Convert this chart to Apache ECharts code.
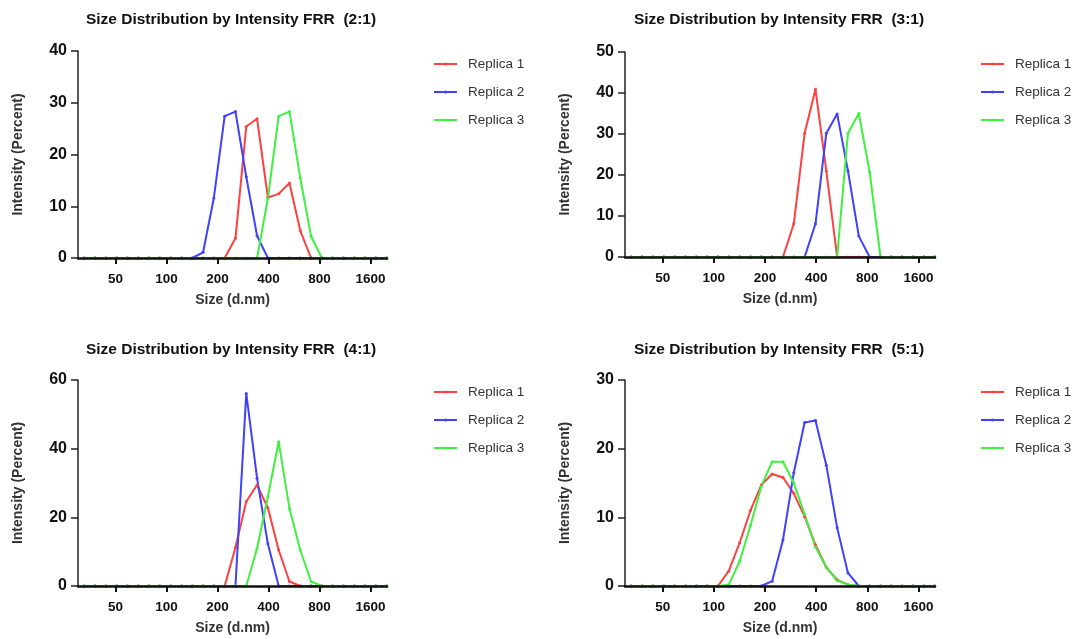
<!DOCTYPE html>
<html>
<head>
<meta charset="utf-8">
<script src="https://cdn.jsdelivr.net/npm/echarts@6/dist/echarts.min.js"></script>
<style>
  html, body { margin: 0; padding: 0; background: #fff; }
  #main { width: 1078px; height: 639px; }
</style>
</head>
<body>
<div id="main"></div>
<script>
// DLS size bins (d.nm)
var sizes = [32.67, 37.84, 43.82, 50.75, 58.77, 68.06, 78.82, 91.28, 105.7, 122.4,
  141.8, 164.2, 190.1, 220.2, 255.0, 295.3, 342.0, 396.1, 458.7, 531.2,
  615.1, 712.4, 825.0, 955.4, 1106, 1281, 1484, 1718, 1990];
var replicaNames = ['Replica 1', 'Replica 2', 'Replica 3'];
var xTicks = [50, 100, 200, 400, 800, 1600];

// FRR 2:1
var frr21Rep1 = [0,0,0,0,0,0,0,0,0,0, 0,0,0,0,3.8,25.4,26.9,11.7,12.4,14.5, 5.3,0,0,0,0,0,0,0,0];
var frr21Rep2 = [0,0,0,0,0,0,0,0,0,0, 0,1.1,11.6,27.4,28.3,15.7,4.3,0,0,0, 0,0,0,0,0,0,0,0,0];
var frr21Rep3 = [0,0,0,0,0,0,0,0,0,0, 0,0,0,0,0,0,0,11.5,27.4,28.3, 15.5,4.2,0,0,0,0,0,0,0];
// FRR 3:1
var frr31Rep1 = [0,0,0,0,0,0,0,0,0,0, 0,0,0,0,0,8.1,30.2,40.9,21.0,0, 0,0,0,0,0,0,0,0,0];
var frr31Rep2 = [0,0,0,0,0,0,0,0,0,0, 0,0,0,0,0,0,0,8.1,30.2,34.9, 21.0,5.1,0,0,0,0,0,0,0];
var frr31Rep3 = [0,0,0,0,0,0,0,0,0,0, 0,0,0,0,0,0,0,0,0,0, 30.2,35.0,20.8,0,0,0,0,0,0];
// FRR 4:1
var frr41Rep1 = [0,0,0,0,0,0,0,0,0,0, 0,0,0,0,11.2,24.6,29.4,22.8,10.5,1.3, 0,0,0,0,0,0,0,0,0];
var frr41Rep2 = [0,0,0,0,0,0,0,0,0,0, 0,0,0,0,0,56.1,31.4,12.3,0,0, 0,0,0,0,0,0,0,0,0];
var frr41Rep3 = [0,0,0,0,0,0,0,0,0,0, 0,0,0,0,0,0,11.0,26.0,42.0,22.6, 10.5,1.3,0,0,0,0,0,0,0];
// FRR 5:1
var frr51Rep1 = [0,0,0,0,0,0,0,0,0,2.2, 6.3,11.0,14.7,16.3,15.8,13.5,10.1,6.0,2.7,0.9, 0.2,0,0,0,0,0,0,0,0];
var frr51Rep2 = [0,0,0,0,0,0,0,0,0,0, 0,0,0,0.7,6.7,16.5,23.8,24.1,17.6,8.5, 1.9,0,0,0,0,0,0,0,0];
var frr51Rep3 = [0,0,0,0,0,0,0,0,0,0.2, 3.6,8.8,14.5,18.1,18.1,15.0,10.4,5.7,2.7,0.8, 0.2,0,0,0,0,0,0,0,0];

var colors = ['#ff4040', '#4040ff', '#40f040'];
var font = 'Liberation Sans';

var panels = [
  { title: 'Size Distribution by Intensity FRR  (2:1)', left: 78, top: 51, width: 309, height: 207,
    yMax: 40, yStep: 10, rows: [frr21Rep1, frr21Rep2, frr21Rep3], tx: 231, ty: 12, lx: 433, ly: 56 },
  { title: 'Size Distribution by Intensity FRR  (3:1)', left: 625, top: 52, width: 310, height: 205,
    yMax: 50, yStep: 10, rows: [frr31Rep1, frr31Rep2, frr31Rep3], tx: 779, ty: 12, lx: 980, ly: 56 },
  { title: 'Size Distribution by Intensity FRR  (4:1)', left: 78, top: 380, width: 309, height: 206,
    yMax: 60, yStep: 20, rows: [frr41Rep1, frr41Rep2, frr41Rep3], tx: 231, ty: 342, lx: 433, ly: 384 },
  { title: 'Size Distribution by Intensity FRR  (5:1)', left: 625, top: 380, width: 310, height: 206,
    yMax: 30, yStep: 10, rows: [frr51Rep1, frr51Rep2, frr51Rep3], tx: 779, ty: 342, lx: 980, ly: 384 }
];

var option = {
  backgroundColor: '#ffffff',
  color: colors,
  animation: false,
  title: [], grid: [], xAxis: [], yAxis: [], legend: [], series: []
};

panels.forEach(function (p, k) {
  option.title.push({
    text: p.title, left: p.tx, top: p.ty, textAlign: 'center', padding: 0,
    textStyle: { fontFamily: font, fontSize: 15.5, fontWeight: 'bold', color: '#111' }
  });
  option.grid.push({ left: p.left, top: p.top, width: p.width, height: p.height });
  option.xAxis.push({
    type: 'log', logBase: 2, min: 30, max: 2000, gridIndex: k, z: 5,
    name: 'Size (d.nm)', nameLocation: 'middle', nameGap: 35,
    nameTextStyle: { fontFamily: font, fontSize: 14, fontWeight: 'bold', color: '#333' },
    axisLine: { lineStyle: { color: '#111', width: 2.5 } },
    axisTick: { customValues: xTicks, length: 6, lineStyle: { color: '#111', width: 2 } },
    axisLabel: {
      customValues: xTicks, margin: 14, fontFamily: font, fontSize: 13.5, fontWeight: 'bold', color: '#111',
      formatter: function (v) { return String(Math.round(v)); }
    },
    splitLine: { show: false }
  });
  option.yAxis.push({
    type: 'value', min: 0, max: p.yMax, interval: p.yStep, gridIndex: k,
    name: 'Intensity (Percent)', nameLocation: 'middle', nameGap: 53,
    nameTextStyle: { fontFamily: font, fontSize: 14, fontWeight: 'bold', color: '#333' },
    axisLine: { show: true, lineStyle: { color: '#222', width: 1.5 } },
    axisTick: { show: true, length: 7, lineStyle: { color: '#222', width: 1.5 } },
    axisLabel: { margin: 11, fontFamily: font, fontSize: 16, fontWeight: 'bold', color: '#111' },
    splitLine: { show: false }
  });
  option.legend.push({
    data: replicaNames, orient: 'vertical', left: p.lx, top: p.ly, padding: 0,
    itemWidth: 23, itemHeight: 4, itemGap: 12,
    textStyle: { fontFamily: font, fontSize: 13.5, color: '#333', padding: [0, 0, 0, 6], lineHeight: 16 }
  });
  p.rows.forEach(function (row, j) {
    option.series.push({
      name: replicaNames[j], type: 'line', xAxisIndex: k, yAxisIndex: k, z: 1,
      data: sizes.map(function (s, i) { return [s, row[i]]; }),
      symbol: 'circle', symbolSize: 3, showSymbol: true,
      lineStyle: { width: 2, color: colors[j] },
      itemStyle: { color: colors[j] }
    });
  });
});

var chart = echarts.init(document.getElementById('main'));
chart.setOption(option);
</script>
</body>
</html>
